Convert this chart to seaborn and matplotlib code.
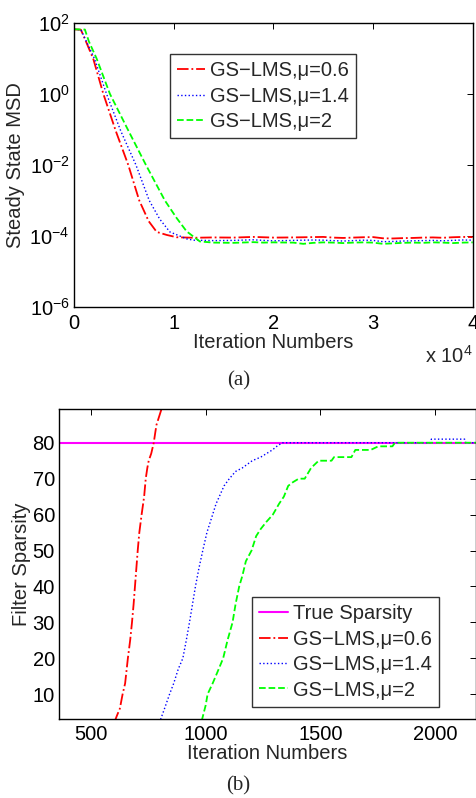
import matplotlib
matplotlib.use("Agg")
import matplotlib.pyplot as plt
import seaborn as sns
from matplotlib.ticker import FixedLocator, NullLocator

# ---- (a) steady state MSD curves ----
msd_x_06 = [0, 700, 1300, 1950, 2950, 4200, 5450, 6550, 7500, 8300, 9300, 10300,
            12000, 14000, 16000, 18000, 19000, 20000, 22000, 24000, 25000, 26000,
            27000, 28000, 29000, 30000, 31000, 32000, 33000, 34000, 35000, 36000,
            37000, 38000, 39000, 40000]
msd_y_06 = [6.6e1, 6.4e1, 2.6e1, 9.5e0, 1.0e0, 9.0e-2, 1.0e-2, 1.0e-3, 2.6e-4, 1.3e-4,
            1.07e-4, 9.2e-5, 8.9e-5, 9.1e-5, 9.0e-5, 9.4e-5, 9.2e-5, 9.0e-5, 9.1e-5,
            9.3e-5, 9.4e-5, 9.0e-5, 8.8e-5, 9.0e-5, 9.2e-5, 9.3e-5, 8.6e-5, 8.5e-5,
            8.7e-5, 8.8e-5, 9.0e-5, 9.1e-5, 8.9e-5, 9.2e-5, 9.4e-5, 9.3e-5]

msd_x_14 = [0, 700, 1300, 2050, 3270, 4700, 6220, 7550, 8600, 9620, 11300,
            12000, 14000, 16000, 18000, 19000, 20000, 22000, 24000, 25000, 26000,
            27000, 28000, 29000, 30000, 31000, 32000, 33000, 34000, 35000, 36000,
            37000, 38000, 39000, 40000]
msd_y_14 = [6.6e1, 6.4e1, 2.8e1, 1.0e1, 1.0e0, 9.0e-2, 1.0e-2, 1.0e-3, 3.0e-4, 1.3e-4,
            8.3e-5, 7.6e-5, 7.4e-5, 7.5e-5, 7.8e-5, 7.5e-5, 7.3e-5, 7.5e-5, 7.7e-5,
            7.6e-5, 7.4e-5, 7.2e-5, 7.4e-5, 7.6e-5, 7.5e-5, 6.9e-5, 7.0e-5, 7.2e-5,
            7.3e-5, 7.4e-5, 7.5e-5, 7.3e-5, 7.5e-5, 7.7e-5, 7.6e-5]

msd_x_2 = [0, 1100, 1500, 2270, 3610, 5400, 7220, 9120, 10300, 11300, 12630,
           14000, 16000, 18000, 19000, 20000, 22000, 23000, 24000, 25000, 26000,
           27000, 28000, 29000, 30000, 31000, 32000, 33000, 34000, 35000, 36000,
           37000, 38000, 39000, 40000]
msd_y_2 = [6.6e1, 6.5e1, 3.0e1, 1.0e1, 1.0e0, 1.0e-1, 1.0e-2, 1.0e-3, 3.2e-4, 1.35e-4,
           7.0e-5, 6.5e-5, 6.4e-5, 6.7e-5, 6.5e-5, 6.6e-5, 6.5e-5, 6.0e-5, 6.4e-5,
           6.6e-5, 6.5e-5, 6.3e-5, 6.5e-5, 6.6e-5, 6.5e-5, 6.0e-5, 6.2e-5, 6.4e-5,
           6.5e-5, 6.4e-5, 6.6e-5, 6.5e-5, 6.3e-5, 6.5e-5, 6.6e-5]

# ---- (b) filter sparsity curves ----
true_sparsity = 80
sp_x_06 = [600, 612, 625, 637, 648, 660, 670, 678, 685, 691, 697, 703, 710, 720,
           731, 738, 745, 751, 762, 773, 780, 785, 795, 805, 815]
sp_y_06 = [2, 4, 6, 10, 13, 20, 25, 30, 35, 40, 45, 50, 55, 60,
           65, 70, 73, 75, 77, 80, 83, 85, 87, 89, 91]

sp_x_14 = [790, 803, 820, 842, 860, 880, 900, 915, 929, 942, 955, 970, 987, 1005,
           1030, 1045, 1059, 1080, 1103, 1130, 1160, 1203, 1240, 1291, 1310, 1334,
           1980, 1985, 2130, 2135, 2180]
sp_y_14 = [0, 3, 6, 10, 13, 17, 20, 25, 30, 35, 40, 45, 50, 55,
           60, 63, 65, 68, 70, 72, 73, 75, 76, 78, 79, 80,
           80, 81, 81, 80, 80]

sp_x_2 = [975, 984, 1000, 1008, 1030, 1050, 1076, 1095, 1117, 1130, 1146, 1160,
          1175, 1200, 1220, 1240, 1265, 1293, 1320, 1341, 1360, 1380, 1406, 1432,
          1460, 1493, 1549, 1560, 1636, 1653, 1720, 1753, 1815, 1826, 2180]
sp_y_2 = [0, 3, 7, 10, 13, 16, 20, 25, 30, 35, 40, 43,
          47, 50, 54, 56, 58, 60, 63, 65, 68, 69, 70, 70,
          73, 75, 75, 76, 76, 78, 78, 79, 79, 80, 80]

labels = ["GS\u2212LMS,\u03bc=0.6", "GS\u2212LMS,\u03bc=1.4", "GS\u2212LMS,\u03bc=2"]

sns.set_style("white")
plt.rcParams["font.family"] = ["Liberation Sans", "DejaVu Sans"]
plt.rcParams["mathtext.fontset"] = "custom"
plt.rcParams["mathtext.rm"] = "Liberation Sans"
plt.rcParams["mathtext.it"] = "Liberation Sans:italic"
plt.rcParams["axes.linewidth"] = 1.0

fig = plt.figure(figsize=(4.77, 7.98), dpi=100)
ax1 = fig.add_axes([0.155, 0.6153, 0.836, 0.356])
ax2 = fig.add_axes([0.124, 0.099, 0.874, 0.3885])

FS = 14.5


def style_axes(ax, xpad):
    for s in ax.spines.values():
        s.set_color("black")
        s.set_linewidth(1.0)
    ax.tick_params(which="both", direction="in", top=True, right=True,
                   length=4, width=0.7, labelsize=FS, colors="black", pad=3)
    ax.tick_params(axis="x", pad=xpad)


def legend_box(ax, **kw):
    leg = ax.legend(fontsize=FS, frameon=True, fancybox=False, handlelength=1.4,
                    handletextpad=0.25, borderpad=0.35, labelspacing=0.32,
                    borderaxespad=0, **kw)
    leg.get_frame().set_edgecolor("black")
    leg.get_frame().set_linewidth(1.0)
    return leg


# top panel
sns.lineplot(x=msd_x_06, y=msd_y_06, ax=ax1, color="red", linestyle="-.",
             linewidth=1.3, sort=False, estimator=None, label=labels[0])
sns.lineplot(x=msd_x_14, y=msd_y_14, ax=ax1, color="blue", linestyle=":",
             linewidth=1.0, sort=False, estimator=None, label=labels[1])
sns.lineplot(x=msd_x_2, y=msd_y_2, ax=ax1, color="#00ff00", linestyle="--",
             linewidth=1.3, sort=False, estimator=None, label=labels[2])
ax1.set_yscale("log")
ax1.set_xlim(0, 40000)
ax1.set_ylim(1e-6, 1e2)
ax1.yaxis.set_major_locator(FixedLocator([1e-6, 1e-4, 1e-2, 1e0, 1e2]))
ax1.yaxis.set_minor_locator(NullLocator())
ax1.set_xticks([0, 10000, 20000, 30000, 40000])
ax1.set_xticklabels(["0", "1", "2", "3", "4"])
style_axes(ax1, 5)
ax1.set_xlabel("Iteration Numbers", fontsize=FS, labelpad=0)
ax1.set_ylabel("Steady State MSD", fontsize=FS, labelpad=3)
ax1.text(1.0, -0.135, r"x $10^{4}$", transform=ax1.transAxes, ha="right",
         va="top", fontsize=FS)
legend_box(ax1, loc="upper left", bbox_to_anchor=(0.24, 0.89))

# bottom panel
ax2.axhline(true_sparsity, color="magenta", linewidth=1.5, label="True Sparsity")
sns.lineplot(x=sp_x_06, y=sp_y_06, ax=ax2, color="red", linestyle="-.",
             linewidth=1.3, sort=False, estimator=None, label=labels[0])
sns.lineplot(x=sp_x_14, y=sp_y_14, ax=ax2, color="blue", linestyle=":",
             linewidth=1.0, sort=False, estimator=None, label=labels[1])
sns.lineplot(x=sp_x_2, y=sp_y_2, ax=ax2, color="#00ff00", linestyle="--",
             linewidth=1.3, sort=False, estimator=None, label=labels[2])
ax2.set_xlim(360, 2180)
ax2.set_ylim(3.1, 89.4)
ax2.set_xticks([500, 1000, 1500, 2000])
ax2.set_yticks([10, 20, 30, 40, 50, 60, 70, 80])
style_axes(ax2, 4)
ax2.set_xlabel("Iteration Numbers", fontsize=FS, labelpad=0)
ax2.set_ylabel("Filter Sparsity", fontsize=FS, labelpad=1)
legend_box(ax2, loc="lower right", bbox_to_anchor=(0.91, 0.04))

fig.text(0.5, 1 - 381 / 798, "(a)", ha="center", va="center",
         fontsize=15, family="Liberation Serif")
fig.text(0.5, 1 - 786 / 798, "(b)", ha="center", va="center",
         fontsize=15, family="Liberation Serif")

fig.savefig("out.png", dpi=100, facecolor="white")
